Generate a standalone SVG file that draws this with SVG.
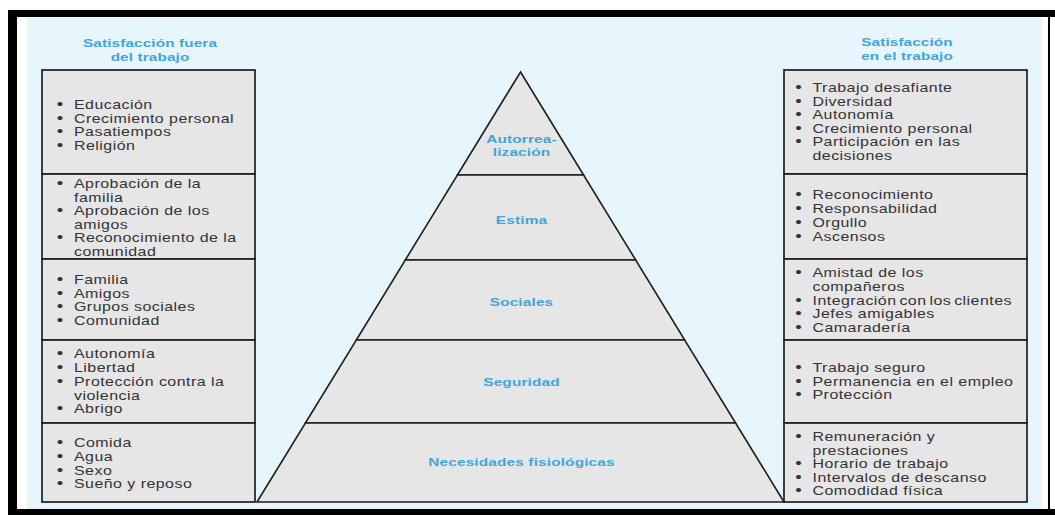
<svg xmlns="http://www.w3.org/2000/svg" width="1055" height="515" viewBox="0 0 1055 515">
<style>
.bg{fill:#e7f5fc}
.box{fill:#e6e6e6;stroke:#1e1e1e;stroke-width:1.7}
.lvl{fill:#e6e6e6;stroke:#1e1e1e;stroke-width:1.6;stroke-linejoin:miter}
.item{font-family:"Liberation Sans",Arial,sans-serif;font-size:12px;fill:#333333;letter-spacing:0.35px}
.item .b{font-size:14px;letter-spacing:0}
.title{font-family:"Liberation Sans",Arial,sans-serif;font-size:11.5px;font-weight:bold;fill:#3fa6dc;letter-spacing:0.1px;text-anchor:middle}
.lbl{font-family:"Liberation Sans",Arial,sans-serif;font-size:11.6px;font-weight:bold;fill:#3fa6dc;letter-spacing:0.1px;text-anchor:middle}
</style>
<rect x="0" y="0" width="1055" height="515" fill="#ffffff"/>
<rect class="bg" x="27" y="18" width="1015" height="491"/>
<g id="frame" fill="#000">
<rect x="8" y="10" width="1047" height="7"/>
<rect x="8" y="10" width="9" height="505"/>
<rect x="1048" y="10" width="2" height="505"/>
<rect x="8" y="509" width="1047" height="6"/>
</g>
<g id="title-left"><g transform="matrix(1.33 0 0 1 150 0)"><text class="title"><tspan x="0" y="47.5">Satisfacción fuera</tspan><tspan x="0" y="61">del trabajo</tspan></text></g></g>
<g id="title-right"><g transform="matrix(1.33 0 0 1 907 0)"><text class="title"><tspan x="0" y="46.5">Satisfacción</tspan><tspan x="0" y="60">en el trabajo</tspan></text></g></g>
<g id="pyramid">
<g id="lvl-autorrealizacion"><polygon class="lvl" points="520.5,72 583.6,175 457.4,175"/><g transform="matrix(1.33 0 0 1 521.5 0)"><text class="lbl"><tspan x="0" y="143.3">Autorrea-</tspan><tspan x="0" y="156">lización</tspan></text></g></g>
<g id="lvl-estima"><polygon class="lvl" points="457.4,175 583.6,175 635.7,260 405.3,260"/><g transform="matrix(1.33 0 0 1 521.5 0)"><text class="lbl" x="0" y="224">Estima</text></g></g>
<g id="lvl-sociales"><polygon class="lvl" points="405.3,260 635.7,260 684.7,340 356.3,340"/><g transform="matrix(1.33 0 0 1 521.5 0)"><text class="lbl" x="0" y="306">Sociales</text></g></g>
<g id="lvl-seguridad"><polygon class="lvl" points="356.3,340 684.7,340 735.6,423 305.4,423"/><g transform="matrix(1.33 0 0 1 521.5 0)"><text class="lbl" x="0" y="386">Seguridad</text></g></g>
<g id="lvl-fisiologicas"><polygon class="lvl" points="305.4,423 735.6,423 784,502 257,502"/><g transform="matrix(1.33 0 0 1 521.5 0)"><text class="lbl" x="0" y="466">Necesidades fisiológicas</text></g></g>
</g>
<g id="left-column">
<g id="left-1"><rect class="box" x="42" y="70" width="213" height="104"/><g transform="matrix(1.33 0 0 1 74 0)"><text class="item">
<tspan class="b" x="-13" y="109">•</tspan><tspan x="0">Educación</tspan>
<tspan class="b" x="-13" y="122.6">•</tspan><tspan x="0">Crecimiento personal</tspan>
<tspan class="b" x="-13" y="136.2">•</tspan><tspan x="0">Pasatiempos</tspan>
<tspan class="b" x="-13" y="149.8">•</tspan><tspan x="0">Religión</tspan>
</text></g></g>
<g id="left-2"><rect class="box" x="42" y="174" width="213" height="85"/><g transform="matrix(1.33 0 0 1 74 0)"><text class="item">
<tspan class="b" x="-13" y="188.5">•</tspan><tspan x="0">Aprobación de la</tspan>
<tspan x="0" y="202">familia</tspan>
<tspan class="b" x="-13" y="215.5">•</tspan><tspan x="0">Aprobación de los</tspan>
<tspan x="0" y="229">amigos</tspan>
<tspan class="b" x="-13" y="242.5">•</tspan><tspan x="0">Reconocimiento de la</tspan>
<tspan x="0" y="256">comunidad</tspan>
</text></g></g>
<g id="left-3"><rect class="box" x="42" y="259" width="213" height="81"/><g transform="matrix(1.33 0 0 1 74 0)"><text class="item">
<tspan class="b" x="-13" y="284">•</tspan><tspan x="0">Familia</tspan>
<tspan class="b" x="-13" y="297.7">•</tspan><tspan x="0">Amigos</tspan>
<tspan class="b" x="-13" y="311.4">•</tspan><tspan x="0">Grupos sociales</tspan>
<tspan class="b" x="-13" y="325.1">•</tspan><tspan x="0">Comunidad</tspan>
</text></g></g>
<g id="left-4"><rect class="box" x="42" y="340" width="213" height="83"/><g transform="matrix(1.33 0 0 1 74 0)"><text class="item">
<tspan class="b" x="-13" y="358.5">•</tspan><tspan x="0">Autonomía</tspan>
<tspan class="b" x="-13" y="372.2">•</tspan><tspan x="0">Libertad</tspan>
<tspan class="b" x="-13" y="385.9">•</tspan><tspan x="0">Protección contra la</tspan>
<tspan x="0" y="399.6">violencia</tspan>
<tspan class="b" x="-13" y="413.3">•</tspan><tspan x="0">Abrigo</tspan>
</text></g></g>
<g id="left-5"><rect class="box" x="42" y="423" width="213" height="79"/><g transform="matrix(1.33 0 0 1 74 0)"><text class="item">
<tspan class="b" x="-13" y="447.3">•</tspan><tspan x="0">Comida</tspan>
<tspan class="b" x="-13" y="461">•</tspan><tspan x="0">Agua</tspan>
<tspan class="b" x="-13" y="474.7">•</tspan><tspan x="0">Sexo</tspan>
<tspan class="b" x="-13" y="488.4">•</tspan><tspan x="0">Sueño y reposo</tspan>
</text></g></g>
</g>
<g id="right-column">
<g id="right-1"><rect class="box" x="784" y="70" width="243" height="104"/><g transform="matrix(1.33 0 0 1 812.5 0)"><text class="item">
<tspan class="b" x="-13" y="92">•</tspan><tspan x="0">Trabajo desafiante</tspan>
<tspan class="b" x="-13" y="105.6">•</tspan><tspan x="0">Diversidad</tspan>
<tspan class="b" x="-13" y="119.2">•</tspan><tspan x="0">Autonomía</tspan>
<tspan class="b" x="-13" y="132.8">•</tspan><tspan x="0">Crecimiento personal</tspan>
<tspan class="b" x="-13" y="146.4">•</tspan><tspan x="0">Participación en las</tspan>
<tspan x="0" y="160">decisiones</tspan>
</text></g></g>
<g id="right-2"><rect class="box" x="784" y="174" width="243" height="85"/><g transform="matrix(1.33 0 0 1 812.5 0)"><text class="item">
<tspan class="b" x="-13" y="199.5">•</tspan><tspan x="0">Reconocimiento</tspan>
<tspan class="b" x="-13" y="213.3">•</tspan><tspan x="0">Responsabilidad</tspan>
<tspan class="b" x="-13" y="227.1">•</tspan><tspan x="0">Orgullo</tspan>
<tspan class="b" x="-13" y="240.9">•</tspan><tspan x="0">Ascensos</tspan>
</text></g></g>
<g id="right-3"><rect class="box" x="784" y="259" width="243" height="81"/><g transform="matrix(1.33 0 0 1 812.5 0)"><text class="item">
<tspan class="b" x="-13" y="277.5">•</tspan><tspan x="0">Amistad de los</tspan>
<tspan x="0" y="291">compañeros</tspan>
<tspan class="b" x="-13" y="304.6">•</tspan><tspan x="0" word-spacing="-1.5">Integración con los clientes</tspan>
<tspan class="b" x="-13" y="318.2">•</tspan><tspan x="0">Jefes amigables</tspan>
<tspan class="b" x="-13" y="331.8">•</tspan><tspan x="0">Camaradería</tspan>
</text></g></g>
<g id="right-4"><rect class="box" x="784" y="340" width="243" height="83"/><g transform="matrix(1.33 0 0 1 812.5 0)"><text class="item">
<tspan class="b" x="-13" y="372.5">•</tspan><tspan x="0">Trabajo seguro</tspan>
<tspan class="b" x="-13" y="386">•</tspan><tspan x="0">Permanencia en el empleo</tspan>
<tspan class="b" x="-13" y="399.5">•</tspan><tspan x="0">Protección</tspan>
</text></g></g>
<g id="right-5"><rect class="box" x="784" y="423" width="243" height="79"/><g transform="matrix(1.33 0 0 1 812.5 0)"><text class="item">
<tspan class="b" x="-13" y="441.5">•</tspan><tspan x="0">Remuneración y</tspan>
<tspan x="0" y="454.9">prestaciones</tspan>
<tspan class="b" x="-13" y="468.3">•</tspan><tspan x="0">Horario de trabajo</tspan>
<tspan class="b" x="-13" y="481.7">•</tspan><tspan x="0">Intervalos de descanso</tspan>
<tspan class="b" x="-13" y="495.1">•</tspan><tspan x="0">Comodidad física</tspan>
</text></g></g>
</g>
<g id="connectors"></g>
</svg>
